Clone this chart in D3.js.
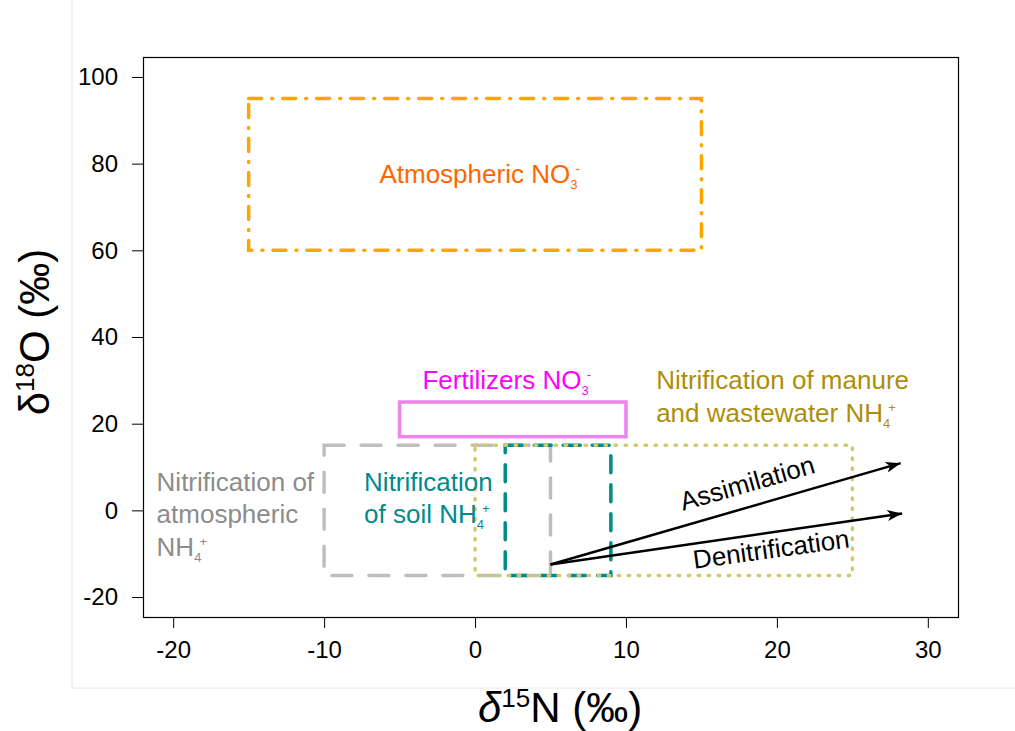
<!DOCTYPE html>
<html>
<head>
<meta charset="utf-8">
<style>
    body { margin: 0; background: #fff; }
    svg { display: block; font-family: 'Liberation Sans', Arial, sans-serif; }
    .axis .domain { display: none; }
    .axis .tick line { stroke: #000; stroke-width: 1; }
    .axis .tick text { font-size: 24px; fill: #000; font-family: 'Liberation Sans', Arial, sans-serif; }
    .lbl { font-size: 26px; }
</style>
</head>
<body>
<svg width="1015" height="731"></svg>
<script src="https://d3js.org/d3.v7.min.js"></script>
<script>
// source boxes (delta15N x, delta18O y)
let boxNames = ["atmNO3", "fertNO3", "atmNH4", "soilNH4", "manureNH4"]
let boxX0 = [-15, -5, -10, 2, 0]
let boxX1 = [15, 10, 5, 9, 25]
let boxY0 = [60, 17, -15, -15, -15]
let boxY1 = [95, 25, 15, 15, 15]

// process arrows
let arrowNames = ["Assimilation", "Denitrification"]
let arrowX0 = [5, 5]
let arrowY0 = [-12.5, -12.5]
let arrowX1 = [28.2, 28.3]
let arrowY1 = [10.9, -0.7]

// box labels: lines of text, anchor point in data units
let labelBox = ["atmNO3", "fertNO3", "manureNH4", "atmNH4", "soilNH4"]
let labelLines = [
    [["Atmospheric NO", "3", "-"]],
    [["Fertilizers NO", "3", "-"]],
    [["Nitrification of manure"], ["and wastewater NH", "4", "+"]],
    [["Nitrification of"], ["atmospheric"], ["NH", "4", "+"]],
    [["Nitrification"], ["of soil NH", "4", "+"]]
]
let labelX = [0.3, 2.1, 12, -21.1, -7.35]
let labelY = [75.5, 28, 28, 4.5, 4.5]

let xTicks = [-20, -10, 0, 10, 20, 30]
let yTicks = [-20, 0, 20, 40, 60, 80, 100]

let styles = {
    atmNO3:    {stroke: "#ffa500", dash: "13,10,1,10", text: "#ff6600", anchor: "middle"},
    fertNO3:   {stroke: "#ee82ee", dash: null, text: "#ff00ff", anchor: "middle"},
    atmNH4:    {stroke: "#bebebe", dash: "20,17", text: "#8c8c8c", anchor: "start"},
    soilNH4:   {stroke: "#008b8b", dash: "17,12", text: "#008b8b", anchor: "start"},
    manureNH4: {stroke: "#d2c86e", dash: "1.5,8.5", text: "#ad8e0b", anchor: "start"}
}

let svg = d3.select("svg")
let margin = {top: 57, right: 57, bottom: 114, left: 143}
let width = 1015, height = 731

let x = d3.scaleLinear().domain([-22, 32]).range([margin.left, width - margin.right])
let y = d3.scaleLinear().domain([-24.6, 104.6]).range([height - margin.bottom, margin.top])

// faint outer frame
svg.append("line").attr("x1", 72).attr("x2", 72).attr("y1", 0).attr("y2", 688)
    .attr("stroke", "#e6e6e6").attr("stroke-width", 1)
svg.append("line").attr("x1", 72).attr("x2", width).attr("y1", 688).attr("y2", 688)
    .attr("stroke", "#e6e6e6").attr("stroke-width", 1)

svg.append("g")
    .attr("class", "x axis")
    .attr("transform", `translate(0, ${height - margin.bottom})`)
    .call(d3.axisBottom(x).tickValues(xTicks).tickSize(11).tickPadding(13).tickFormat(d3.format("d")))

svg.append("g")
    .attr("class", "y axis")
    .attr("transform", `translate(${margin.left}, 0)`)
    .call(d3.axisLeft(y).tickValues(yTicks).tickSize(11).tickPadding(14).tickFormat(d3.format("d")))

svg.selectAll(".axis .tick text").text(function () { return this.textContent.replace("−", "-") })

// plot border
svg.append("rect")
    .attr("x", margin.left + 0.5).attr("y", margin.top + 0.5)
    .attr("width", width - margin.left - margin.right)
    .attr("height", height - margin.top - margin.bottom)
    .attr("fill", "none").attr("stroke", "#000").attr("stroke-width", 1.2)

// boxes
let boxes = boxNames.map((n, i) => ({name: n, x0: boxX0[i], x1: boxX1[i], y0: boxY0[i], y1: boxY1[i]}))

svg.append("g").selectAll("rect")
    .data(boxes)
    .join("rect")
    .attr("x", d => x(d.x0))
    .attr("y", d => y(d.y1))
    .attr("width", d => x(d.x1) - x(d.x0))
    .attr("height", d => y(d.y0) - y(d.y1))
    .attr("fill", "none")
    .attr("stroke", d => styles[d.name].stroke)
    .attr("stroke-width", 3.5)
    .attr("stroke-linecap", d => styles[d.name].dash ? "round" : "butt")
    .attr("stroke-dasharray", d => styles[d.name].dash)

// arrows
svg.append("defs").append("marker")
    .attr("id", "head")
    .attr("viewBox", "-16 -6 18 12")
    .attr("refX", 0).attr("refY", 0)
    .attr("markerWidth", 18).attr("markerHeight", 12)
    .attr("markerUnits", "userSpaceOnUse")
    .attr("orient", "auto")
    .append("path")
    .attr("d", "M0,0 L-15,-5.5 L-11,0 L-15,5.5 Z")
    .attr("fill", "#000")

svg.append("g").selectAll("line")
    .data(arrowNames)
    .join("line")
    .attr("x1", (d, i) => x(arrowX0[i]))
    .attr("y1", (d, i) => y(arrowY0[i]))
    .attr("x2", (d, i) => x(arrowX1[i]))
    .attr("y2", (d, i) => y(arrowY1[i]))
    .attr("stroke", "#000")
    .attr("stroke-width", 2.5)
    .attr("marker-end", "url(#head)")

// arrow labels, rotated along arrow
let arrowLabelX = [18.2, 19.7]
let arrowLabelY = [4.3, -11.0]
let arrowLabelAngle = [-16, -7.8]
svg.append("g").selectAll("text")
    .data(arrowNames)
    .join("text")
    .attr("class", "lbl")
    .attr("text-anchor", "middle")
    .attr("transform", (d, i) => `translate(${x(arrowLabelX[i])},${y(arrowLabelY[i])}) rotate(${arrowLabelAngle[i]})`)
    .text(d => d)

// box labels with sub/superscripts
let lineH = 32.5
labelBox.forEach((name, i) => {
    let st = styles[name]
    let t = svg.append("text")
        .attr("class", "lbl")
        .attr("fill", st.text)
        .attr("text-anchor", st.anchor)
    labelLines[i].forEach((parts, j) => {
        let yy = y(labelY[i]) + j * lineH
        t.append("tspan").attr("x", x(labelX[i])).attr("y", yy).text(parts[0])
        if (parts.length > 1) {
            t.append("tspan").attr("font-size", "13px").attr("dy", 6).text(parts[1])
            t.append("tspan").attr("font-size", "13px").attr("dx", -2).attr("dy", -16).text(parts[2])
        }
    })
})

// axis titles
let xt = svg.append("text")
    .attr("x", 560).attr("y", 722)
    .attr("text-anchor", "middle")
    .attr("font-size", "42px")
xt.append("tspan").attr("font-style", "italic").text("δ")
xt.append("tspan").attr("font-size", "26px").attr("dy", -15).text("15")
xt.append("tspan").attr("dy", 15).text("N (‰)")

let yt = svg.append("text")
    .attr("transform", "translate(49, 332) rotate(-90)")
    .attr("text-anchor", "middle")
    .attr("font-size", "42px")
yt.append("tspan").text("δ")
yt.append("tspan").attr("font-size", "26px").attr("dy", -15).text("18")
yt.append("tspan").attr("dy", 15).text("O (‰)")
</script>
</body>
</html>
